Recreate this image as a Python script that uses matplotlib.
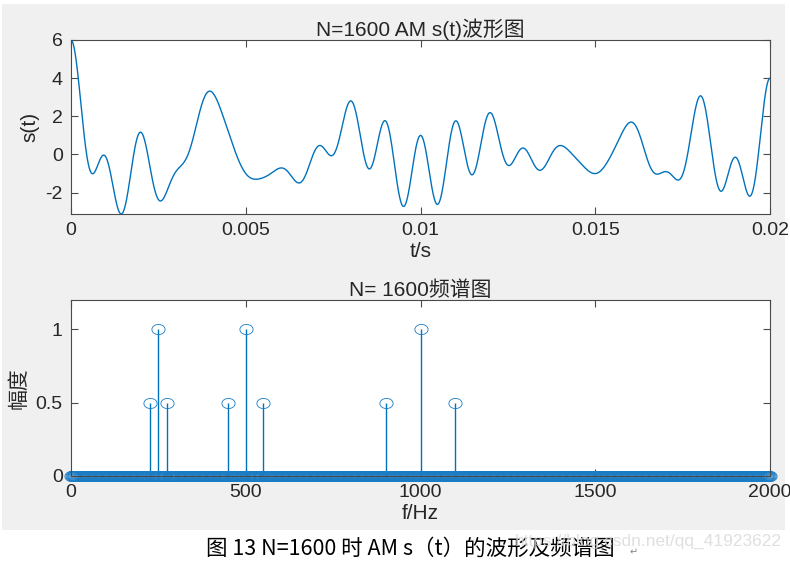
import numpy as np
import matplotlib.pyplot as plt
from matplotlib.path import Path
from matplotlib.patches import Rectangle
from matplotlib.transforms import Affine2D

# spectral lines (Hz, normalised amplitude)
comp_freq = [225, 250, 275, 450, 500, 550, 900, 1000, 1100]
comp_amp = [0.5, 1.0, 0.5, 0.5, 1.0, 0.5, 0.5, 1.0, 0.5]

# frequency bins of the spectrum plot (N=1600, 2.5 Hz spacing up to 2000 Hz)
df = 2.5
f_max = 2000
t_max = 0.02

plt.rcParams['font.family'] = ['Liberation Sans', 'Noto Sans CJK SC', 'DejaVu Sans']
plt.rcParams['axes.unicode_minus'] = False

blue = '#0072BD'
frame = '#4a4a4a'
txt = '#262626'

# time signal built from the spectral lines above
t = np.linspace(0, t_max, 2001)
s = np.zeros_like(t)
for f, a in zip(comp_freq, comp_amp):
    s += a * np.cos(2 * np.pi * f * t)

freqs = np.arange(0, f_max + df / 2, df)
amps = np.zeros_like(freqs)
for f, a in zip(comp_freq, comp_amp):
    amps[int(round(f / df))] = a

fig = plt.figure(figsize=(7.9, 5.61), dpi=100, facecolor='white')
fig.patches.append(Rectangle((2 / 790, 31 / 561), 783 / 790, 526 / 561,
                             transform=fig.transFigure, facecolor='#f0f0f0',
                             edgecolor='none', zorder=-10))


def style(ax):
    for sp in ax.spines.values():
        sp.set_color(frame)
        sp.set_linewidth(0.8)
    ax.tick_params(direction='in', top=True, right=True, length=5,
                   width=0.8, color=frame, labelsize=14, labelcolor=txt, pad=6)


ax1 = fig.add_axes([71 / 790, 347 / 561, 699 / 790, 174 / 561])
ax1.plot(t, s, color=blue, lw=1.0)
ax1.set_xlim(0, t_max)
ax1.set_ylim(s.min(), 6)
ax1.set_xticks([0, 0.005, 0.01, 0.015, 0.02])
ax1.set_xticklabels(['0', '0.005', '0.01', '0.015', '0.02'])
ax1.set_yticks([-2, 0, 2, 4, 6])
ax1.set_title('N=1600 AM s(t)波形图', fontsize=15, color=txt, pad=3)
ax1.set_xlabel('t/s', fontsize=15, color=txt, labelpad=2)
ax1.set_ylabel('s(t)', fontsize=15, color=txt, labelpad=4)
style(ax1)

# slightly wide circle, as in the stretched screenshot
ell = Path.unit_circle().transformed(Affine2D().scale(1.3, 1.0))

ax2 = fig.add_axes([71 / 790, 85 / 561, 699 / 790, 176 / 561])
ax2.vlines(freqs[amps > 0], 0, amps[amps > 0], color=blue, lw=1.0)
ax2.plot(freqs, amps, ls='none', marker=ell, ms=9.5, mfc='none',
         mec='#1a7cc4', mew=0.6, clip_on=False)
ax2.set_xlim(0, f_max)
ax2.set_ylim(0, 1.2)
ax2.set_xticks([0, 500, 1000, 1500, 2000])
ax2.set_yticks([0, 0.5, 1])
ax2.set_yticklabels(['0', '0.5', '1'])
ax2.set_title('N= 1600频谱图', fontsize=15, color=txt, pad=3)
ax2.set_xlabel('f/Hz', fontsize=15, color=txt, labelpad=2)
ax2.set_ylabel('幅度', fontsize=15, color=txt, labelpad=4,
               family=['Noto Sans CJK SC'])
style(ax2)

fig.text(410 / 790, 12 / 561, '图 13 N=1600 时 AM s（t）的波形及频谱图',
         ha='center', va='center', fontsize=15.5, color='black',
         family=['Noto Sans CJK SC', 'DejaVu Sans'])
fig.text(630 / 790, 9 / 561, '↵', ha='left', va='center', fontsize=7,
         color='#888888', family=['DejaVu Sans'])
fig.text(782 / 790, 20 / 561, 'https://blog.csdn.net/qq_41923622', ha='right',
         va='center', fontsize=12.5, color='#d8d8d8', alpha=0.8)

fig.savefig('out.png', dpi=100, facecolor=fig.get_facecolor())
